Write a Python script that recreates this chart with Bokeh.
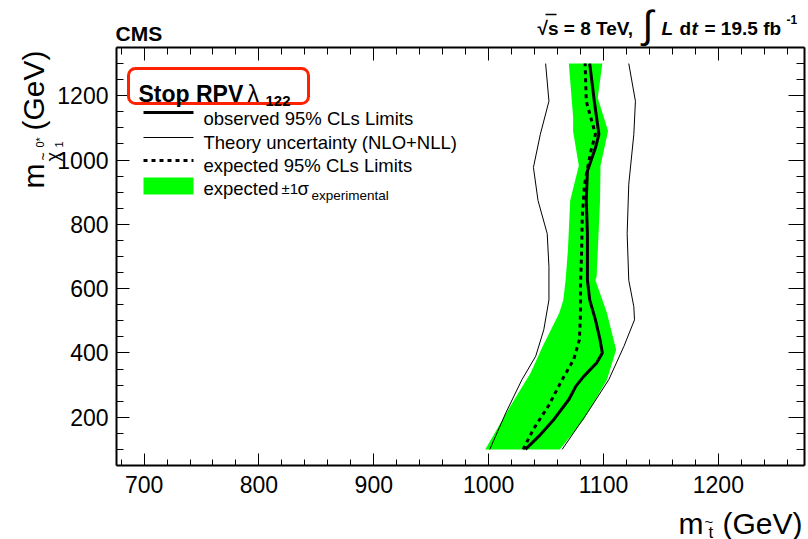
import math
from bokeh.plotting import figure
from bokeh.models import Range1d, LinearAxis, FixedTicker, Label, BoxAnnotation
from bokeh.embed import file_html
from bokeh.resources import INLINE

# ---------------- data ----------------
# observed 95% CLs limit: stop mass (GeV) vs neutralino mass (GeV)
obs_mstop = [1032, 1044, 1057, 1070, 1076, 1083, 1094, 1099, 1097, 1093, 1088, 1086, 1086, 1086, 1085, 1086, 1093, 1096, 1092, 1088]
obs_mchi = [100, 142, 194, 256, 297, 328, 369, 400, 441, 503, 565, 626, 668, 771, 874, 966, 1038, 1080, 1183, 1300]

# expected 95% CLs limit
exp_mstop = [1030, 1039, 1052, 1064, 1074, 1079, 1080, 1080, 1081, 1081.5, 1083.5, 1089, 1093, 1085, 1084]
exp_mchi = [100, 163, 235, 317, 379, 441, 524, 616, 719, 822, 925, 1028, 1080, 1183, 1300]

# expected +-1 sigma experimental band
band_lo_mstop = [997, 1019, 1036.5, 1047, 1061.5, 1065, 1067, 1069, 1071, 1078.5, 1073.5, 1073.6, 1071.3, 1069.8]
band_lo_mchi = [100, 235, 338, 420, 524, 565, 626, 719, 874, 982, 1090, 1131, 1234, 1300]
band_hi_mstop = [1062, 1083, 1103, 1111, 1103, 1093, 1094, 1097, 1097.4, 1104, 1095, 1099]
band_hi_mchi = [100, 194, 317, 410, 524, 626, 637, 874, 982, 1090, 1193, 1300]

# observed limit theory uncertainty (NLO+NLL)
theo_lo_mstop = [1001, 1015, 1029, 1041, 1048, 1052.5, 1052.5, 1051, 1043, 1039, 1045, 1052.5, 1049.6]
theo_lo_mchi = [100, 214, 317, 390, 472, 565, 668, 771, 874, 977, 1080, 1183, 1300]
theo_hi_mstop = [1064, 1086, 1104.6, 1117.7, 1127, 1126.4, 1122, 1120.6, 1122, 1126.4, 1127.8, 1122]
theo_hi_mchi = [100, 214, 317, 420, 503, 544, 626, 771, 925, 1080, 1183, 1300]

x_major = [700, 800, 900, 1000, 1100, 1200]
y_major = [200, 400, 600, 800, 1000, 1200]

# ---------------- layout ----------------
# plot box (data) and where it sits on the 808x539 canvas (pixels)
X0, X1 = 676, 1275
Y0, Y1 = 50, 1350
BL, BT, BW, BH = 116, 47, 688, 418
W, H = 808, 539

def X(px):
    return X0 + (px - BL) * (X1 - X0) / BW

def Y(py):
    return Y0 + (BT + BH - py) * (Y1 - Y0) / BH

FONT = "Liberation Sans"
GREEN = "#00ff00"

# the frame covers the whole canvas; axes are pinned to the box edges
p = figure(frame_width=W, frame_height=H,
           x_range=Range1d(X(0), X(W)), y_range=Range1d(Y(H), Y(0)),
           x_axis_type=None, y_axis_type=None,
           output_backend="svg", toolbar_location=None,
           min_border=0, min_border_left=0, min_border_right=0,
           min_border_top=0, min_border_bottom=0)
p.title.visible = False
p.outline_line_color = None
p.background_fill_color = "white"
p.border_fill_color = "white"

x_ticker = FixedTicker(ticks=x_major, minor_ticks=list(range(680, 1280, 20)))
y_ticker = FixedTicker(ticks=y_major, minor_ticks=list(range(50, 1351, 50)))

def make_axis(ticker, labels, tin, mtin, loc, bounds, standoff=8):
    ax = LinearAxis(ticker=ticker, fixed_location=loc, bounds=bounds)
    ax.axis_line_color = "black"
    ax.axis_line_width = 2
    ax.major_tick_in = tin
    ax.major_tick_out = 0
    ax.minor_tick_in = mtin
    ax.minor_tick_out = 0
    ax.major_tick_line_color = "black"
    ax.minor_tick_line_color = "black"
    ax.major_tick_line_width = 1
    ax.minor_tick_line_width = 1
    if labels:
        ax.major_label_text_font = FONT
        ax.major_label_text_font_size = "23px"
        ax.major_label_text_color = "black"
        ax.major_label_standoff = standoff
    else:
        ax.major_label_text_font_size = "1px"
        ax.major_label_text_color = None
        ax.major_label_standoff = 0
    return ax

p.add_layout(make_axis(x_ticker, True, 12, 6, Y0, (X0, X1), 10), "below")
p.add_layout(make_axis(x_ticker, False, 13, 7, Y1, (X0, X1)), "above")
p.add_layout(make_axis(y_ticker, True, 13, 7, X0, (Y0, Y1), 8), "left")
p.add_layout(make_axis(y_ticker, False, 16, 8, X1, (Y0, Y1)), "right")

# ---------------- curves ----------------
band_x = band_lo_mstop + band_hi_mstop[::-1]
band_y = band_lo_mchi + band_hi_mchi[::-1]
p.patch(band_x, band_y, fill_color=GREEN, line_color=None)
p.line(theo_lo_mstop, theo_lo_mchi, line_color="black", line_width=1)
p.line(theo_hi_mstop, theo_hi_mchi, line_color="black", line_width=1)
p.line(exp_mstop, exp_mchi, line_color="black", line_width=3, line_dash="4 4")
p.line(obs_mstop, obs_mchi, line_color="black", line_width=3)

# ---------------- legend ----------------
p.add_layout(BoxAnnotation(left=X(128), right=X(308), top=Y(68), bottom=Y(103),
                           fill_color="white", fill_alpha=1.0,
                           line_color="#ff2200", line_alpha=1.0, line_width=3,
                           border_radius=7))

p.line([X(143), X(193)], [Y(112), Y(112)], line_color="black", line_width=3)
p.line([X(143), X(193)], [Y(137), Y(137)], line_color="black", line_width=1)
p.line([X(143), X(193)], [Y(160), Y(160)], line_color="black", line_width=3, line_dash="4 4")
p.quad(left=[X(143)], right=[X(193)], top=[Y(177)], bottom=[Y(194)], fill_color=GREEN, line_color=None)

def lab(text, px, py, size, style="normal", align="left", angle=0.0):
    p.add_layout(Label(x=X(px), y=Y(py), text=text, text_font=FONT,
                       text_font_size=f"{size}px", text_font_style=style,
                       text_align=align, text_baseline="alphabetic",
                       text_color="black", angle=angle))

lab("Stop RPV", 138, 93, 23, "bold")
lab("λ", 247, 93, 23)
lab("122", 265, 100, 15, "bold")
lab("observed 95% CLs Limits", 203, 118, 18.5)
lab("Theory uncertainty (NLO+NLL)", 203, 142, 18.5)
lab("expected 95% CLs Limits", 203, 165, 18.5)
lab("expected", 203, 188, 18.5)
lab("±1", 281, 188, 15)
lab("σ", 297, 188, 18.5)
lab("experimental", 311, 195, 13.5)

# ---------------- header ----------------
lab("CMS", 115, 33, 21, "bold")
lab("√s = 8 TeV,", 537, 28, 19, "bold")
p.line([X(545), X(556)], [Y(14), Y(14)], line_color="black", line_width=1.5)
lab("∫", 642, 23.5, 39)
lab("L", 661, 28, 19, "bold italic")
lab("d", 679, 28, 19, "bold")
lab("t", 691, 28, 19, "bold italic")
lab("= 19.5 fb", 704, 28, 19, "bold")
lab("-1", 786, 19, 12, "bold")

# ---------------- axis titles ----------------
lab("m", 678, 523, 30)
lab("~", 704, 521, 15)
lab("t", 708, 532, 17)
lab("(GeV)", 722, 523, 30)

A = math.pi / 2
lab("m", 33, 188, 30, angle=A)
lab("χ", 52, 161, 18, angle=A)
lab("~", 42, 160, 14, angle=A)
lab("0*", 39, 147, 11, angle=A)
lab("1", 58, 147, 11, angle=A)
lab("(GeV)", 33, 130, 30, angle=A)

open("out.html", "w").write(file_html(p, INLINE))
